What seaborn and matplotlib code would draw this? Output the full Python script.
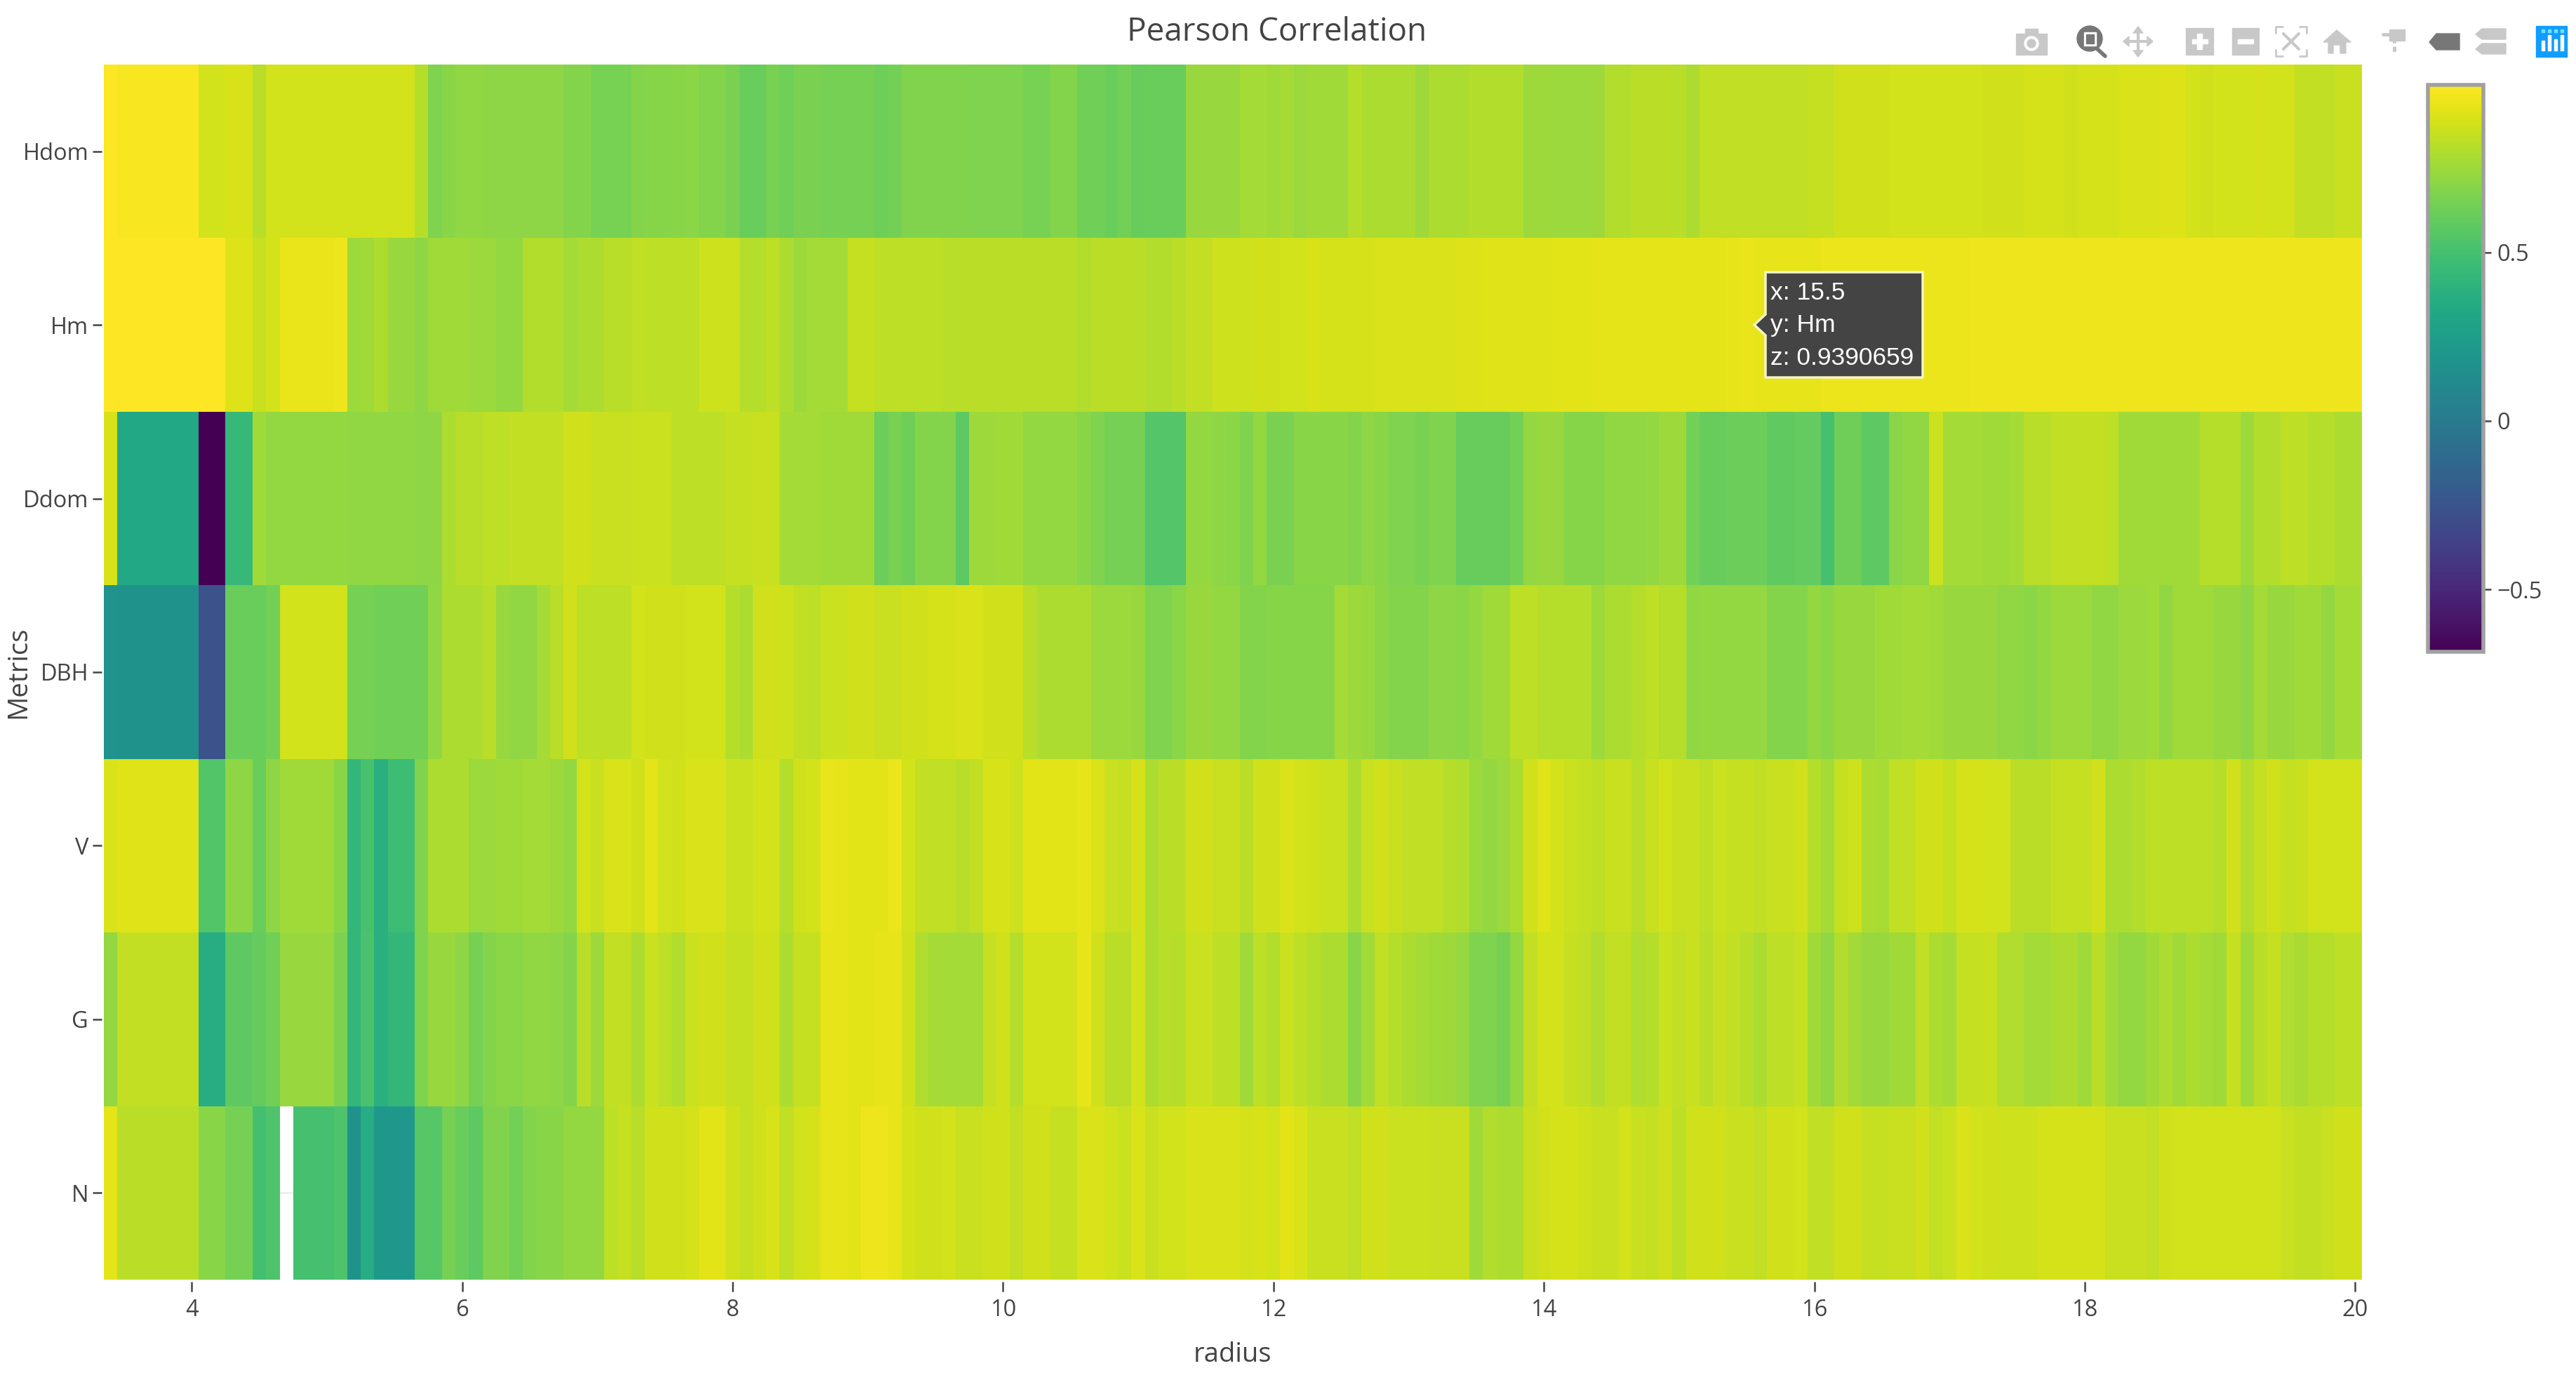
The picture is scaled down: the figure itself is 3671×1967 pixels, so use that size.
import numpy as np
import pandas as pd
import seaborn as sns
import matplotlib.pyplot as plt
from matplotlib.patches import Polygon, Rectangle, Circle

# radius axis: one column every 0.1 from 3.4 to 20
radius = [round(3.4 + 0.1 * i, 1) for i in range(167)]
metrics = ['Hdom', 'Hm', 'Ddom', 'DBH', 'V', 'G', 'N']
x_ticks = [4, 6, 8, 10, 12, 14, 16, 18, 20]
cbar_ticks = [-0.5, 0, 0.5]
cbar_labels = ['\u22120.5', '0', '0.5']
z_min = -0.685
z_max = 0.997

hdom = [.99, .98, .98, .98, .98, .98, .98, .884, .884, .893,
        .893, .818, .881, .881, .881, .881, .881, .881, .881, .881,
        .881, .881, .881, .809, .67, .701, .72, .72, .714, .714,
        .714, .714, .71, .71, .686, .686, .652, .652, .652, .682,
        .693, .693, .701, .707, .686, .686, .659, .61, .61, .652,
        .634, .659, .659, .646, .646, .646, .646, .629, .642, .677,
        .677, .677, .677, .677, .673, .673, .673, .673, .652, .652,
        .682, .682, .634, .634, .615, .638, .606, .615, .615, .615,
        .735, .735, .735, .735, .77, .77, .76, .77, .744, .76,
        .76, .76, .809, .787, .787, .787, .787, .752, .787, .787,
        .787, .80, .80, .80, .80, .752, .752, .744, .744, .744,
        .752, .805, .805, .823, .823, .823, .818, .793, .836, .836,
        .836, .836, .836, .836, .836, .836, .85, .85, .875, .875,
        .875, .878, .885, .885, .885, .885, .881, .881, .881, .875,
        .875, .875, .89, .89, .89, .875, .89, .89, .89, .90,
        .90, .90, .91, .91, .881, .878, .884, .884, .884, .89,
        .884, .884, .845, .845, .836, .858, .858]

hm = [.995, .995, .995, .995, .995, .995, .995, .995, .995, .91,
      .91, .853, .881, .94, .94, .94, .94, .957, .752, .76,
      .793, .735, .735, .714, .756, .756, .76, .744, .744, .727,
      .727, .80, .80, .80, .77, .79, .79, .818, .818, .836,
      .832, .832, .832, .827, .87, .87, .87, .809, .809, .832,
      .793, .752, .77, .77, .77, .85, .85, .827, .827, .832,
      .832, .832, .818, .823, .823, .823, .823, .823, .823, .823,
      .823, .823, .80, .823, .823, .823, .823, .805, .805, .823,
      .845, .845, .87, .87, .87, .875, .875, .885, .885, .895,
      .888, .888, .888, .888, .90, .90, .90, .905, .905, .905,
      .907, .907, .914, .914, .914, .914, .914, .92, .92, .92,
      .925, .925, .925, .925, .925, .927, .927, .927, .927, .927,
      .935, .939, .935, .935, .935, .935, .935, .948, .948, .948,
      .948, .948, .948, .948, .948, .948, .948, .948, .957, .957,
      .957, .957, .957, .957, .957, .957, .957, .957, .957, .957,
      .957, .957, .955, .955, .955, .955, .955, .955, .955, .955,
      .955, .955, .955, .957, .957, .957, .957]

ddom = [.893, .326, .326, .326, .326, .326, .326, -.685, -.685, .44,
        .44, .756, .723, .723, .723, .723, .723, .723, .717, .717,
        .717, .717, .717, .71, .71, .79, .818, .818, .827, .827,
        .841, .841, .841, .841, .875, .875, .853, .853, .853, .864,
        .864, .864, .832, .832, .832, .832, .85, .85, .853, .853,
        .77, .77, .77, .756, .756, .756, .76, .62, .652, .629,
        .682, .682, .682, .58, .752, .752, .756, .756, .727, .727,
        .727, .727, .701, .673, .646, .646, .646, .548, .548, .548,
        .723, .723, .714, .707, .673, .723, .659, .659, .701, .701,
        .701, .701, .686, .71, .697, .673, .673, .652, .673, .673,
        .606, .606, .606, .606, .638, .727, .735, .735, .69, .69,
        .69, .717, .717, .717, .723, .748, .748, .642, .606, .606,
        .62, .62, .62, .584, .584, .593, .593, .502, .625, .625,
        .58, .58, .697, .72, .72, .864, .77, .77, .77, .76,
        .76, .77, .818, .818, .836, .836, .841, .841, .832, .76,
        .76, .76, .76, .76, .76, .809, .809, .809, .748, .80,
        .80, .827, .827, .809, .809, .793, .793]

dbh = [.18, .167, .167, .167, .167, .167, .167, -.26, -.26, .61,
       .61, .61, .642, .884, .884, .884, .884, .884, .646, .646,
       .634, .634, .634, .634, .717, .79, .793, .793, .818, .74,
       .717, .717, .77, .823, .875, .827, .827, .832, .832, .884,
       .878, .878, .878, .881, .881, .881, .809, .793, .875, .875,
       .87, .845, .827, .864, .864, .878, .878, .853, .853, .875,
       .875, .89, .89, .90, .90, .875, .875, .875, .818, .787,
       .787, .787, .787, .744, .744, .744, .74, .673, .673, .707,
       .735, .735, .723, .723, .682, .682, .693, .693, .693, .693,
       .693, .77, .748, .735, .707, .686, .686, .686, .71, .71,
       .707, .723, .756, .756, .827, .827, .809, .809, .809, .809,
       .752, .79, .79, .809, .827, .813, .813, .717, .723, .723,
       .723, .723, .723, .682, .682, .682, .723, .707, .735, .735,
       .735, .76, .76, .77, .77, .76, .735, .735, .735, .735,
       .717, .717, .703, .723, .744, .744, .744, .72, .72, .744,
       .744, .76, .72, .76, .76, .76, .735, .735, .71, .77,
       .74, .74, .756, .756, .727, .77, .77]

v = [.905, .915, .915, .915, .915, .915, .915, .543, .543, .714,
     .714, .61, .71, .76, .76, .76, .76, .701, .43, .507,
     .38, .47, .47, .673, .787, .787, .79, .744, .744, .756,
     .756, .77, .77, .752, .723, .881, .853, .905, .905, .875,
     .928, .884, .875, .90, .90, .90, .864, .864, .884, .884,
     .809, .875, .881, .943, .932, .924, .924, .924, .95, .881,
     .845, .836, .836, .818, .845, .893, .893, .87, .92, .92,
     .92, .92, .932, .90, .853, .85, .89, .793, .823, .823,
     .875, .875, .858, .858, .823, .875, .878, .90, .885, .875,
     .864, .864, .793, .853, .878, .853, .836, .836, .836, .809,
     .80, .744, .727, .744, .793, .878, .915, .885, .864, .85,
     .832, .853, .853, .818, .853, .884, .853, .853, .832, .864,
     .85, .85, .836, .853, .853, .875, .809, .77, .85, .87,
     .79, .78, .836, .836, .878, .878, .85, .89, .89, .884,
     .881, .823, .823, .823, .85, .85, .85, .875, .793, .793,
     .80, .827, .827, .827, .827, .827, .809, .875, .805, .85,
     .875, .85, .858, .884, .884, .884, .884]

g = [.723, .845, .845, .845, .845, .845, .845, .362, .362, .58,
     .58, .597, .634, .735, .735, .735, .735, .665, .42, .517,
     .385, .43, .43, .673, .735, .735, .71, .646, .682, .703,
     .703, .72, .72, .714, .682, .818, .752, .841, .841, .793,
     .864, .832, .80, .864, .878, .878, .85, .85, .875, .875,
     .793, .85, .85, .935, .935, .924, .924, .932, .932, .875,
     .797, .77, .77, .77, .77, .85, .875, .809, .885, .885,
     .885, .885, .932, .875, .823, .823, .881, .793, .818, .809,
     .864, .864, .832, .832, .756, .832, .80, .864, .832, .809,
     .793, .793, .701, .765, .836, .813, .787, .77, .76, .748,
     .732, .673, .673, .646, .727, .841, .884, .884, .85, .836,
     .797, .845, .845, .797, .813, .864, .836, .853, .823, .853,
     .836, .818, .793, .832, .832, .85, .76, .717, .80, .765,
     .735, .74, .76, .76, .836, .79, .77, .85, .85, .853,
     .797, .797, .77, .77, .79, .79, .756, .823, .756, .727,
     .727, .756, .787, .76, .79, .77, .756, .85, .756, .823,
     .85, .797, .78, .809, .809, .832, .832]

n = [.928, .823, .823, .823, .823, .823, .823, .701, .701, .646,
     .646, .493, .53, np.nan, .502, .502, .502, .53, .174, .36,
     .213, .213, .213, .552, .552, .646, .61, .58, .677, .677,
     .638, .686, .701, .701, .727, .727, .727, .832, .85, .818,
     .875, .875, .875, .89, .92, .92, .878, .85, .878, .893,
     .836, .881, .89, .935, .935, .92, .957, .957, .932, .89,
     .878, .878, .884, .853, .853, .875, .875, .845, .878, .878,
     .85, .85, .90, .90, .884, .864, .90, .853, .881, .881,
     .90, .90, .90, .90, .89, .893, .885, .924, .905, .858,
     .858, .858, .836, .878, .878, .864, .864, .864, .858, .858,
     .858, .756, .80, .79, .79, .853, .878, .89, .89, .878,
     .853, .853, .881, .853, .85, .878, .832, .878, .878, .878,
     .853, .853, .836, .875, .875, .881, .836, .836, .875, .875,
     .85, .85, .853, .853, .875, .845, .864, .90, .881, .875,
     .87, .87, .87, .89, .89, .89, .89, .89, .853, .853,
     .853, .845, .878, .881, .885, .884, .884, .884, .881, .881,
     .881, .853, .841, .841, .858, .878, .878]

W, H = 3671, 1967
TXT = '#444444'

sns.set_theme(style='white')
plt.rcParams['font.family'] = ['Open Sans', 'DejaVu Sans']

tabel = pd.DataFrame([hdom, hm, ddom, dbh, v, g, n], index=metrics, columns=radius)

fig = plt.figure(figsize=(W / 100, H / 100), dpi=100)
ax = fig.add_axes([148 / W, 1 - 1824 / H, 3218 / W, 1732 / H])
cax = fig.add_axes([3460 / W, 1 - 929 / H, 79 / W, 808 / H])

sns.heatmap(tabel, ax=ax, cmap='viridis', vmin=z_min, vmax=z_max, cbar_ax=cax,
            cbar_kws={'ticks': cbar_ticks}, xticklabels=False, yticklabels=metrics)

# faint gridline visible through the missing cell
ax.set_axisbelow(True)
ax.axhline(6.5, color='#eeeeee', lw=2, zorder=0)

ax.set_xticks([radius.index(float(t)) + 0.5 for t in x_ticks])
ax.set_xticklabels([str(t) for t in x_ticks])
ax.tick_params(axis='x', bottom=True, length=10, width=1.8, color=TXT, labelsize=23.5,
               labelcolor=TXT, pad=7, rotation=0)
ax.tick_params(axis='y', left=True, length=9.5, width=1.8, color=TXT, labelsize=23.5,
               labelcolor=TXT, pad=4, rotation=0)
ax.spines['left'].set_position(('outward', 2.2))
ax.spines['bottom'].set_position(('outward', 2.2))

ax.set_xlabel('radius', fontsize=27.5, color=TXT, va='center')
ax.xaxis.set_label_coords(0.5, -(1931 - 1824) / 1732)
ax.set_ylabel('Metrics', fontsize=27.5, color=TXT, va='center')
ax.yaxis.set_label_coords((26 - 148) / 3218, 0.5)

cb = ax.collections[0].colorbar
cb.set_ticks(cbar_ticks, labels=cbar_labels)
cb.outline.set_edgecolor('#a0a0a0')
cb.outline.set_linewidth(4)
cax.tick_params(axis='y', right=True, length=8, width=1.8, color=TXT, labelsize=23.5,
                labelcolor=TXT, pad=6)

# overlay in reference pixels for the title, the hover box and the toolbar
top = fig.add_axes([0, 0, 1, 1], zorder=5)
top.set_xlim(0, W)
top.set_ylim(H, 0)
top.axis('off')
top.patch.set_alpha(0)

top.text(1820, 46, 'Pearson Correlation', fontsize=33, color=TXT, ha='center', va='center')

# hover label
top.add_patch(Polygon([(2500, 463), (2516, 448), (2516, 388), (2740, 388), (2740, 538), (2516, 538), (2516, 478)],
                      closed=True, facecolor='#444444', edgecolor='#f4f4c8', lw=2.5))
for yy, txt in zip([417, 463, 510], ['x: 15.5', 'y: Hm', 'z: 0.9390659']):
    top.text(2523, yy, txt, fontsize=25.5, color='white', va='center', ha='left', family='Liberation Sans')

# toolbar
light = '#c8c8c8'
dark = '#777777'
# camera
top.add_patch(Rectangle((2873, 48), 44, 30, color=light))
top.add_patch(Rectangle((2886, 41), 18, 8, color=light))
top.add_patch(Circle((2895, 62), 10, color='white'))
top.add_patch(Circle((2895, 62), 6, color=light))
# zoom
top.add_patch(Circle((2978, 55), 18, color=dark))
top.add_patch(Rectangle((2970, 46), 17, 19, color='white'))
top.add_patch(Rectangle((2973, 49), 11, 13, color=dark))
top.plot([2989, 3000], [70, 80], color=dark, lw=4)
# pan
top.plot([3047, 3047], [40, 79], color=light, lw=3)
top.plot([3028, 3066], [59, 59], color=light, lw=3)
for tri in ([(3040, 47), (3047, 38), (3054, 47)], [(3040, 72), (3047, 81), (3054, 72)],
            [(3034, 52), (3026, 59), (3034, 66)], [(3060, 52), (3068, 59), (3060, 66)]):
    top.add_patch(Polygon(tri, color=light))
# plus and minus
top.add_patch(Rectangle((3115, 40), 39, 38, color=light))
top.add_patch(Rectangle((3131, 48), 7, 22, color='white'))
top.add_patch(Rectangle((3124, 56), 22, 6, color='white'))
top.add_patch(Rectangle((3181, 40), 38, 38, color=light))
top.add_patch(Rectangle((3189, 56), 22, 6, color='white'))
# autoscale
for xs, ys in (([3243, 3243, 3253], [47, 38, 38]), ([3277, 3287, 3287], [38, 38, 47]),
               ([3243, 3243, 3253], [71, 80, 80]), ([3277, 3287, 3287], [80, 80, 71])):
    top.plot(xs, ys, color=light, lw=2)
top.plot([3254, 3276], [48, 70], color=light, lw=3)
top.plot([3254, 3276], [70, 48], color=light, lw=3)
# home
top.add_patch(Polygon([(3311, 60), (3330, 43), (3350, 60), (3343, 60), (3343, 76), (3335, 76), (3335, 64),
                       (3325, 64), (3325, 76), (3318, 76), (3318, 60)], color=light))
# spikes
top.plot([3396, 3405], [49, 49], color=light, lw=3.5)
top.plot([3412, 3412], [54, 76], color=light, lw=3.5, ls=(0, (1.5, 1)))
top.add_patch(Rectangle((3405, 42), 22, 16, color=light))
# closest and compare tags
top.add_patch(Polygon([(3462, 60), (3472, 48), (3505, 48), (3505, 71), (3472, 71)], color=dark))
top.add_patch(Polygon([(3528, 49), (3537, 41), (3571, 41), (3571, 56), (3537, 56)], color=light))
top.add_patch(Polygon([(3528, 70), (3537, 62), (3571, 62), (3571, 77), (3537, 77)], color=light))
# plotly logo
top.add_patch(Rectangle((3614, 37), 44, 44, color='#119dff'))
for bx, by in ((3622, 58), (3631, 50), (3640, 56), (3649, 50)):
    top.add_patch(Rectangle((bx, by), 3.5, 72 - by, color='white'))
for bx in (3622, 3631, 3640, 3649):
    top.add_patch(Rectangle((bx, 42), 3.5, 4, color='#6fe3ff'))

fig.savefig('out.png', dpi=100)
